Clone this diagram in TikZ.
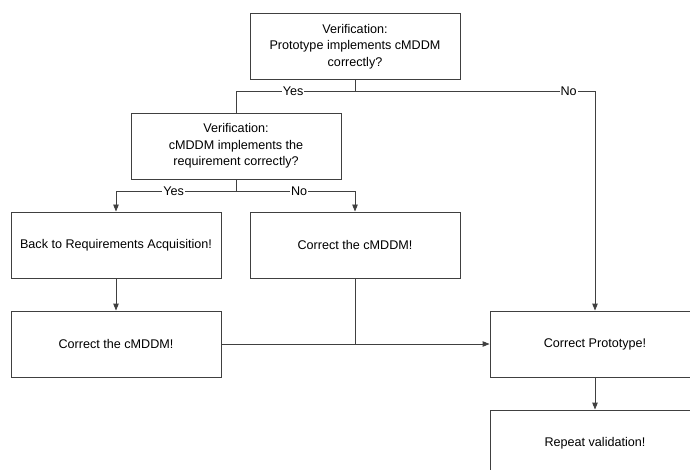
\documentclass[tikz,border=0pt]{standalone}
\usepackage{fontspec}
\setmainfont{Liberation Sans}
\usetikzlibrary{arrows.meta}
\definecolor{linegray}{HTML}{404040}
\begin{document}
\begin{tikzpicture}[x=1pt,y=-1pt,
  box/.style={draw=linegray, line width=0.9pt, minimum width=210pt, minimum height=66pt,
    align=center, inner sep=0pt, font=\fontsize{12.6}{16.5}\selectfont},
  flow/.style={draw=linegray, line width=0.9pt},
  arr/.style={flow, -{Triangle[length=7pt,width=5.5pt]}},
  lbl/.style={fill=white, inner sep=1pt, font=\fontsize{12.6}{14}\selectfont}]
\clip (0,0) rectangle (690,470);
\useasboundingbox (0,0) rectangle (690,470);

% decision boxes
\node[box] (v1) at (355,46.5) {Verification:\\Prototype implements cMDDM\\correctly?};
\node[box] (v2) at (236,146) {Verification:\\cMDDM implements the\\requirement correctly?};

% action boxes
\node[box] (back)   at (116,245) {Back to Requirements Acquisition!};
\node[box] (fix1)   at (355,245) {Correct the cMDDM!};
\node[box] (fix2)   at (116,344) {Correct the cMDDM!};
\node[box] (proto)  at (595,344) {Correct Prototype!};
\node[box] (repeat) at (595,443) {Repeat validation!};

% branch points
\coordinate (j1) at (355,91.5);
\coordinate (j2) at (236,191);

% first decision
\draw[flow] (v1.south) -- (j1);
\draw[flow] (j1) -- node[lbl, pos=0.52] {Yes} (v2.north |- j1) -- (v2.north);
\draw[arr] (j1) -- node[lbl, pos=0.89] {No} (proto.north |- j1) -- (proto.north);

% second decision
\draw[flow] (v2.south) -- (j2);
\draw[arr] (j2) -- node[lbl, pos=0.52] {Yes} (back.north |- j2) -- (back.north);
\draw[arr] (j2) -- node[lbl, pos=0.53] {No} (fix1.north |- j2) -- (fix1.north);

% corrections lead to the prototype fix
\draw[arr] (back.south) -- (fix2.north);
\draw[arr] (fix2.east) -- (proto.west);
\draw[flow] (fix1.south) -- (fix1.south |- fix2.east);
\draw[arr] (proto.south) -- (repeat.north);
\end{tikzpicture}
\end{document}
